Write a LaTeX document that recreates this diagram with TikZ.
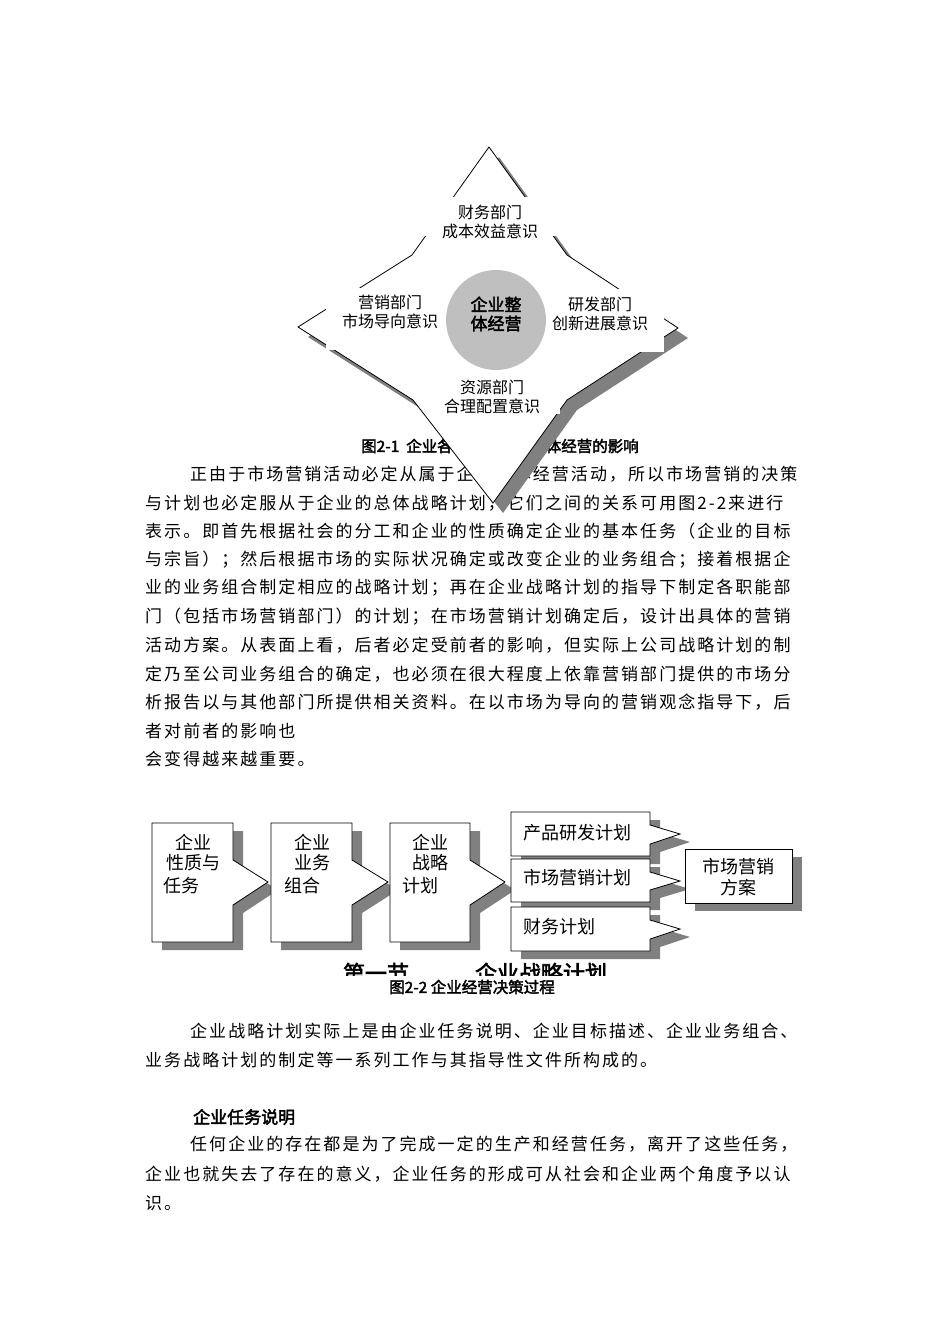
\documentclass[tikz,border=0pt]{standalone}
\usepackage{fontspec}
\usetikzlibrary{calc}
\setmainfont{Noto Sans CJK SC}[AutoFakeBold=2.5]
\newfontfamily\body{Noto Sans CJK SC}[LetterSpace=12]
\tikzset{
  shadowc/.style={fill=black!50,draw=none},
  shapec/.style={fill=white,draw=black,line width=0.8pt},
  cover/.style={fill=white,draw=none},
  bl/.style={anchor=west,inner sep=0pt,font=\body\fontsize{17}{17}\selectfont},
  lbl/.style={align=center,inner sep=0pt,font=\fontsize{16}{19}\selectfont},
  fl/.style={inner sep=0pt,font=\fontsize{18}{21}\selectfont},
  captxt/.style={inner sep=0pt,font=\bfseries\fontsize{15.5}{15.5}\selectfont}
}
\begin{document}
\begin{tikzpicture}[x=1pt,y=-1pt]
\useasboundingbox (0,0) rectangle (950,1344);
% body text 1
\node[bl] (t1) at (190,474) {正由于市场营销活动必定从属于企业整体经营活动，所以市场营销的决策};
\node[bl] (t2) at (145,503) {与计划也必定服从于企业的总体战略计划，它们之间的关系可用图2-2来进行};
\node[bl] (t3) at (145,531) {表示。即首先根据社会的分工和企业的性质确定企业的基本任务（企业的目标};
\node[bl] (t4) at (145,560) {与宗旨）；然后根据市场的实际状况确定或改变企业的业务组合；接着根据企};
\node[bl] (t5) at (145,588) {业的业务组合制定相应的战略计划；再在企业战略计划的指导下制定各职能部};
\node[bl] (t6) at (145,617) {门（包括市场营销部门）的计划；在市场营销计划确定后，设计出具体的营销};
\node[bl] (t7) at (145,645) {活动方案。从表面上看，后者必定受前者的影响，但实际上公司战略计划的制};
\node[bl] (t8) at (145,674) {定乃至公司业务组合的确定，也必须在很大程度上依靠营销部门提供的市场分};
\node[bl] (t9) at (145,702) {析报告以与其他部门所提供相关资料。在以市场为导向的营销观念指导下，后};
\node[bl] (t10) at (145,731) {者对前者的影响也};
\node[bl] (t11) at (145,759) {会变得越来越重要。};
\node[captxt] (c1) at (500,446) {图2-1\ \ 企业各部门对企业总体经营的影响};
% diamond
\fill[shadowc,shift={(10,10)}] (489,147) -- (567,255) -- (678,328) -- (567,400) -- (493,503) -- (413,400) -- (298,327) -- (412,255) -- cycle;
\draw[shapec] (489,147) -- (567,255) -- (678,328) -- (567,400) -- (493,503) -- (413,400) -- (298,327) -- (412,255) -- cycle;
\fill[cover] (425,197) rectangle (558,236);
\fill[cover] (326,288) rectangle (445,350);
\fill[cover] (550,289) rectangle (664,352);
\fill[cover] (440,366) rectangle (560,414);
\fill[black!25] (496,320) circle (50);
\node[lbl] (d0) at (496,314) {\bfseries\fontsize{17}{20}\selectfont 企业整\\\bfseries\fontsize{17}{20}\selectfont 体经营};
\node[lbl] (d1) at (490,222) {财务部门\\成本效益意识};
\node[lbl] (d2) at (390,312) {营销部门\\市场导向意识};
\node[lbl] (d3) at (600,314) {研发部门\\创新进展意识};
\node[lbl] (d4) at (492,397) {资源部门\\合理配置意识};
% flowchart
\foreach \l/\r/\tip in {152/233/268,271/352/388,390/470/505}{
  \fill[shadowc,shift={(10,8)}] (\l,823) -- (\r,823) -- (\r,860) -- (\tip,882) -- (\r,905) -- (\r,942) -- (\l,942) -- cycle;
  \draw[shapec] (\l,823) -- (\r,823) -- (\r,860) -- (\tip,882) -- (\r,905) -- (\r,942) -- (\l,942) -- cycle;
}
\foreach \t/\b in {812/856,859/902,907/951}{
  \fill[shadowc,shift={(10,8)}] (511,\t) -- (650,\t) -- ($(650,\t)+(0,13)$) -- ($(680,\t)+(0,22)$) -- ($(650,\b)+(0,-12)$) -- (650,\b) -- (511,\b) -- cycle;
  \draw[shapec] (511,\t) -- (650,\t) -- ($(650,\t)+(0,13)$) -- ($(680,\t)+(0,22)$) -- ($(650,\b)+(0,-12)$) -- (650,\b) -- (511,\b) -- cycle;
}
\fill[shadowc] (695,857) rectangle (802,911);
\draw[shapec] (685,849) rectangle (792,903);
\node[fl] (f1a) at (193,842) {企业};
\node[fl] (f1b) at (193,863) {性质与};
\node[fl,anchor=west] (f1c) at (163,886) {任务};
\node[fl] (f2a) at (312,842) {企业};
\node[fl] (f2b) at (312,863) {业务};
\node[fl,anchor=west] (f2c) at (284,886) {组合};
\node[fl] (f3a) at (430,842) {企业};
\node[fl] (f3b) at (430,863) {战略};
\node[fl,anchor=west] (f3c) at (402,886) {计划};
\node[fl,anchor=west] (p1) at (523,833) {产品研发计划};
\node[fl,anchor=west] (p2) at (523,878) {市场营销计划};
\node[fl,anchor=west] (p3) at (523,927) {财务计划};
\node[fl,align=center] (fm) at (738,877) {市场营销\\方案};
\begin{scope}
\clip (300,959) rectangle (620,975);
\node[inner sep=0pt,font=\bfseries\fontsize{22}{22}\selectfont] (sec) at (475,973) {第一节\qquad\quad 企业战略计划};
\end{scope}
\node[captxt] (c2) at (472,987) {图2-2 企业经营决策过程};
% lower text
\node[bl] (u1) at (190,1031) {企业战略计划实际上是由企业任务说明、企业目标描述、企业业务组合、};
\node[bl] (u2) at (145,1060) {业务战略计划的制定等一系列工作与其指导性文件所构成的。};
\node[anchor=west,inner sep=0pt,font=\bfseries\fontsize{17}{17}\selectfont] (h1) at (193,1117) {企业任务说明};
\node[bl] (u3) at (190,1144) {任何企业的存在都是为了完成一定的生产和经营任务，离开了这些任务，};
\node[bl] (u4) at (145,1174) {企业也就失去了存在的意义，企业任务的形成可从社会和企业两个角度予以认};
\node[bl] (u5) at (145,1203) {识。};
\end{tikzpicture}
\end{document}
